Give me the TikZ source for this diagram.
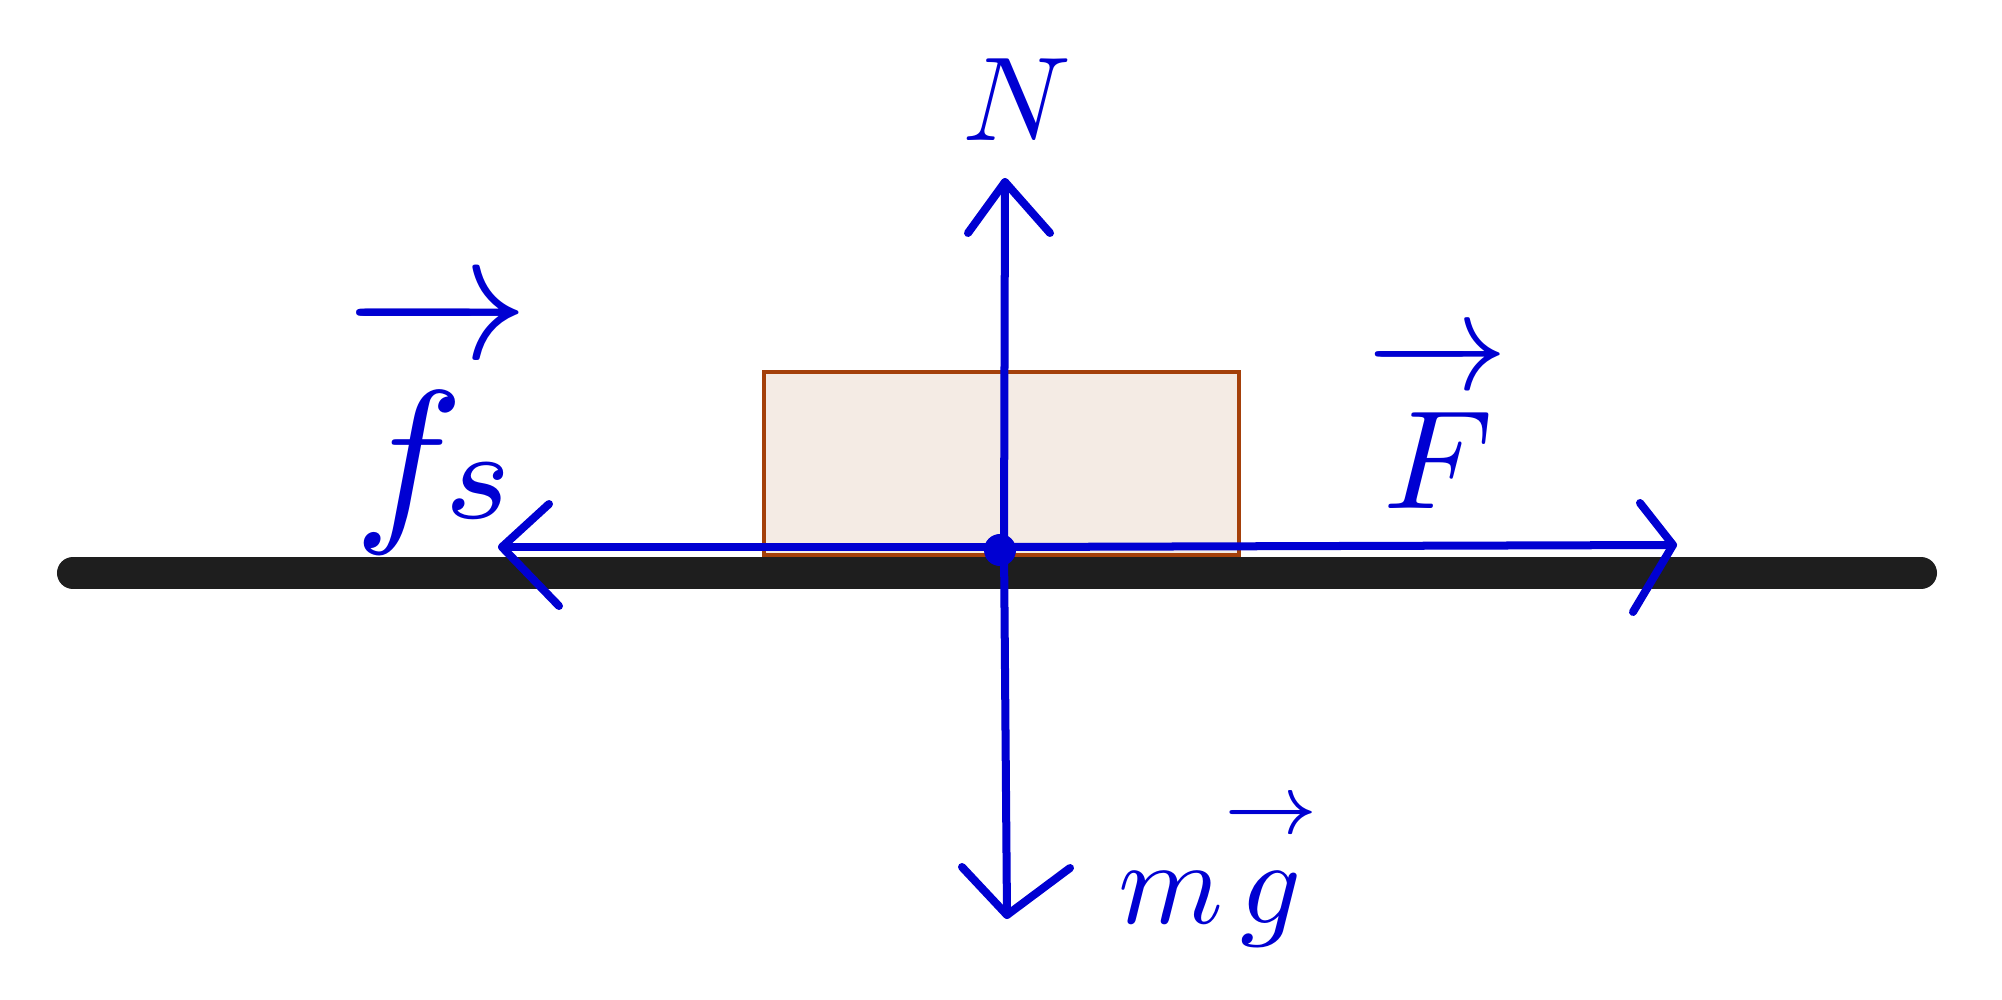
\documentclass[tikz,border=0pt]{standalone}
\usepackage{amsmath}
\definecolor{penblue}{RGB}{0,0,210}
\definecolor{groundcol}{RGB}{30,30,30}
\definecolor{boxedge}{RGB}{164,64,10}
\definecolor{boxfill}{RGB}{244,235,228}
\begin{document}
\begin{tikzpicture}[x=0.01cm,y=-0.01cm,
  force/.style={draw=penblue,line width=0.08cm,line cap=round,line join=round},
  lbl/.style={text=penblue,inner sep=0pt},
  groundline/.style={draw=groundcol,line width=0.32cm,line cap=round},
  blockbox/.style={draw=boxedge,fill=boxfill,line width=0.035cm,inner sep=0pt,
    minimum width=4.75cm,minimum height=1.83cm}]
\useasboundingbox[fill=white] (0,0) rectangle (2002,1000);
% ground
\coordinate (gl) at (73,573);
\coordinate (gr) at (1921,573);
\draw[groundline] (gl) -- (gr);
% block
\node[blockbox,anchor=north west] (box) at (762,370) {};
% force arrows
\coordinate (O) at (1004,547);
\coordinate (tN) at (1005,182);
\coordinate (tS) at (1007,915);
\coordinate (tW) at (502,547);
\coordinate (tE) at (1673,545);
\coordinate (nA) at (968,233);
\coordinate (nB) at (1050,233);
\coordinate (sA) at (962,867);
\coordinate (sB) at (1070,868);
\coordinate (wA) at (549,504);
\coordinate (wB) at (559,606);
\coordinate (eA) at (1640,503);
\coordinate (eB) at (1633,612);
\draw[force] (O) -- (tN);
\draw[force] (O) -- (tS);
\draw[force] (O) -- (tW);
\draw[force] (O) -- (tE);
\draw[force] (nA) -- (tN) -- (nB);
\draw[force] (sA) -- (tS) -- (sB);
\draw[force] (wA) -- (tW) -- (wB);
\draw[force] (eA) -- (tE) -- (eB);
\node[circle,fill=penblue,minimum size=0.32cm,inner sep=0pt] (dot) at (1000,550) {};
% labels
\node[lbl,scale=3.4,anchor=base] (labN) at (1017,140) {$N$};
\node[lbl,scale=5.2,anchor=base] (labf) at (438,518) {$\overrightarrow{\rule{0pt}{8.7pt}f_{\raisebox{1.5pt}{$\scriptstyle s$}}}$};
\node[lbl,scale=4,anchor=base] (labF) at (1438,508) {$\overrightarrow{\rule{0pt}{8.4pt}F}$};
\node[lbl,scale=3.4,anchor=base west] (labmg) at (1116,923) {$m\overset{\rightarrow}{\rule{0pt}{5.5pt}g}$};
\end{tikzpicture}
\end{document}
